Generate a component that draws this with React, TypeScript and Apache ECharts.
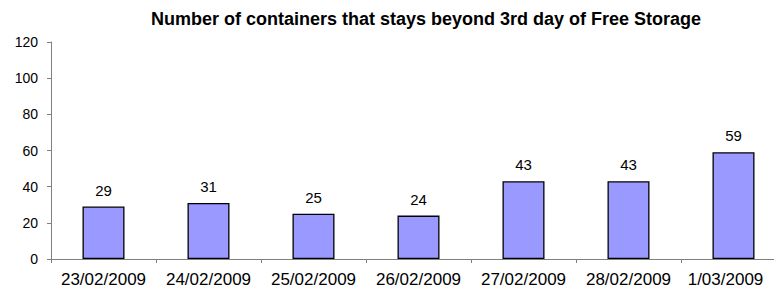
import React, { useEffect, useRef } from "react";
import * as echarts from "echarts";

const categories = ["23/02/2009", "24/02/2009", "25/02/2009", "26/02/2009", "27/02/2009", "28/02/2009", "1/03/2009"];
const values = [29, 31, 25, 24, 43, 43, 59];
const titleText = "Number of containers that stays beyond 3rd day of Free Storage";

export default function App() {
  const ref = useRef<HTMLDivElement>(null);
  useEffect(() => {
    if (!ref.current) return;
    const chart = echarts.init(ref.current, null, { renderer: "svg" });
    const font = "'Liberation Sans', Arial, sans-serif";
    const catData = categories.map((c, i) =>
      i === categories.length - 1 ? { value: c, textStyle: { padding: [0, 16, 0, 0] } } : c
    );
    chart.setOption({
      animation: false,
      backgroundColor: "#ffffff",
      title: {
        text: titleText,
        left: 421,
        textAlign: "center",
        top: 5,
        textStyle: { fontFamily: font, fontSize: 18, fontWeight: "bold", color: "#000" },
      },
      grid: { left: 51, top: 42, width: 735, height: 217, containLabel: false, outerBoundsMode: "none" },
      xAxis: {
        type: "category",
        data: catData,
        axisLine: { lineStyle: { color: "#808080", width: 1 } },
        axisTick: { show: true, length: 4, lineStyle: { color: "#808080" } },
        axisLabel: { fontFamily: font, fontSize: 17, color: "#000", margin: 12, interval: 0 },
      },
      yAxis: {
        type: "value",
        min: 0,
        max: 120,
        interval: 20,
        splitLine: { show: false },
        axisLine: { show: true, lineStyle: { color: "#808080", width: 1 } },
        axisTick: { show: true, length: 4, lineStyle: { color: "#808080" } },
        axisLabel: { fontFamily: font, fontSize: 14, color: "#000", margin: 13 },
      },
      series: [
        {
          type: "bar",
          data: values,
          barWidth: 42,
          itemStyle: { color: "#9999FF", borderColor: "#000", borderWidth: 1.3 },
          label: {
            show: true,
            position: "top",
            distance: 9,
            fontFamily: font,
            fontSize: 15,
            color: "#000",
          },
        },
      ],
    });
    return () => chart.dispose();
  }, []);
  return (
    <div
      ref={ref}
      style={{ position: "fixed", left: 0, top: 0, width: 774, height: 291, overflow: "hidden", background: "#fff" }}
    />
  );
}
